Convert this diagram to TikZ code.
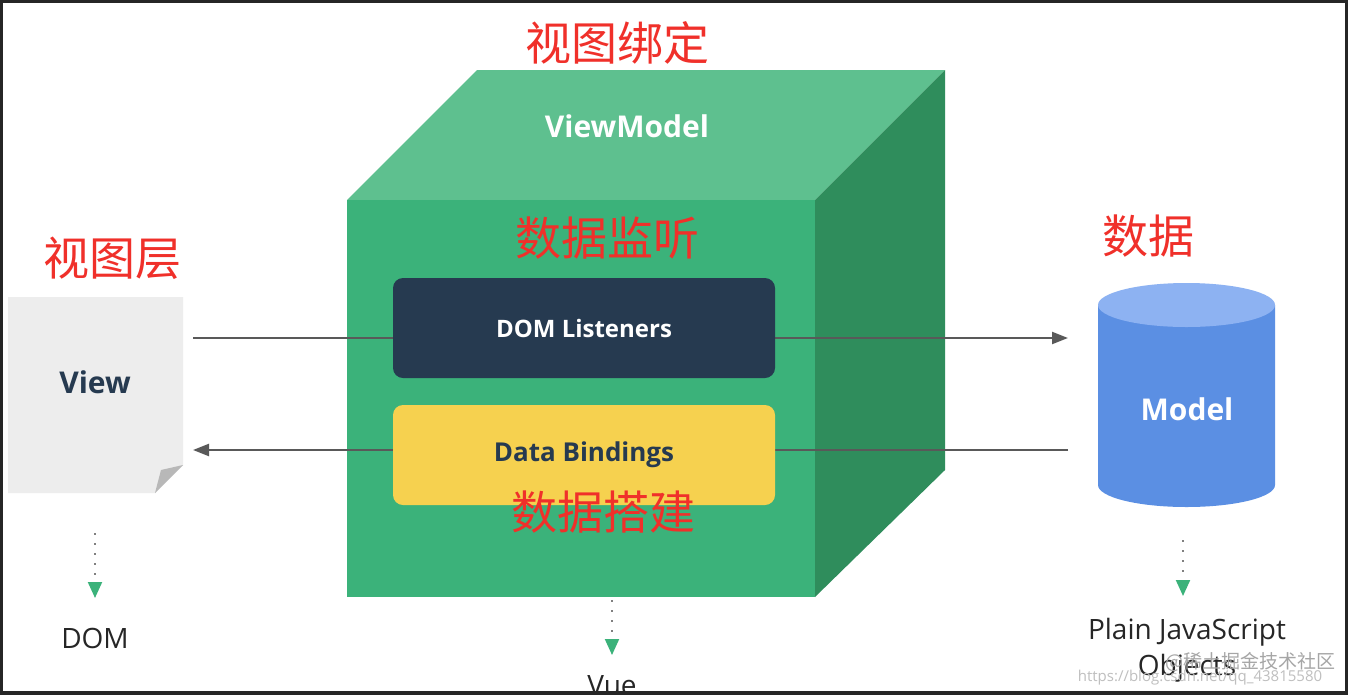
\documentclass[tikz,border=0pt]{standalone}
\usepackage{fontspec}
\setmainfont{Open Sans}
\newfontfamily\cjk{Noto Sans CJK SC}
\usetikzlibrary{arrows.meta}
\definecolor{gfront}{HTML}{3BB27A}
\definecolor{gtop}{HTML}{5EC08F}
\definecolor{gside}{HTML}{2F8D5C}
\definecolor{navy}{HTML}{263A50}
\definecolor{yel}{HTML}{F6D14F}
\definecolor{bl}{HTML}{5B8FE3}
\definecolor{bltop}{HTML}{8DB2F2}
\definecolor{red1}{HTML}{F0302A}
\tikzset{
  cn/.style={font=\cjk\fontsize{46}{46}\selectfont, text=red1},
  plain/.style={font=\fontsize{28}{30}\selectfont, text=black!85},
  flow/.style={draw=black!65, line width=2.2pt, -{Triangle[length=16pt,width=12pt]}},
  dots/.style={draw=black!50, line width=2pt, dash pattern=on 2pt off 8pt, -{Triangle[length=16pt,width=14pt,color=gfront]}}
}
\begin{document}
\begin{tikzpicture}[x=1pt,y=-1pt]
\useasboundingbox (0,0) rectangle (1348,694);
\fill[white] (0,0) rectangle (1348,694);
\draw[black!85, line width=6pt] (0,0) rectangle (1348,694);
% cube
\fill[gtop] (347,200) -- (477,70) -- (945,70) -- (815,200) -- cycle;
\fill[gside] (815,200) -- (945,70) -- (945,470) -- (815,597) -- cycle;
\fill[gfront] (347,200) rectangle (815,597);
\node[text=white, font=\bfseries\fontsize{30}{30}\selectfont] (vm) at (627,126) {ViewModel};
% view page
\fill[black!7] (8,297) -- (183,297) -- (183,465) -- (155,493) -- (8,493) -- cycle;
\fill[black!28] (183,465) -- (155,493) -- (161,470) -- cycle;
\node[text=navy, font=\bfseries\fontsize{30}{30}\selectfont] (view) at (95,382) {View};
\coordinate (vR1) at (193,338);
\coordinate (vR2) at (193,450);
% model cylinder
\fill[bl] (1098,305) -- (1098,485) arc[start angle=180,end angle=360,x radius=88.5pt,y radius=22pt] -- (1275,305) -- cycle;
\fill[bltop] (1186.5,305) ellipse[x radius=88.5pt,y radius=22pt];
\node[text=white, font=\bfseries\fontsize{30}{30}\selectfont] (model) at (1187,409) {Model};
\coordinate (mL1) at (1068,338);
\coordinate (mL2) at (1068,450);
% arrows (behind boxes)
\draw[flow] (vR1) -- (mL1);
\draw[flow] (mL2) -- (vR2);
\node[fill=navy, rounded corners=10pt, minimum width=382pt, minimum height=100pt, text=white, font=\bfseries\fontsize{24}{24}\selectfont] (dl) at (584,328) {DOM Listeners};
\node[fill=yel, rounded corners=10pt, minimum width=382pt, minimum height=100pt, text=navy, font=\bfseries\fontsize{26}{26}\selectfont] (db) at (584,455) {Data Bindings};
% dotted arrows
\node[plain] (dom) at (95,638) {DOM};
\node[plain, anchor=north] (vue) at (612,672) {Vue};
\node[plain, align=center, font=\fontsize{28}{36}\selectfont] (pjo) at (1187,650) {Plain JavaScript\\Objects};
\coordinate (d1) at (95,533); \coordinate (d1e) at (95,598);
\coordinate (d2) at (612,600); \coordinate (d2e) at (612,655);
\coordinate (d3) at (1183,540); \coordinate (d3e) at (1183,596);
\draw[dots] (d1) -- (d1e);
\draw[dots] (d2) -- (d2e);
\draw[dots] (d3) -- (d3e);
% red labels
\node[cn] (c1) at (617,43) {视图绑定};
\node[cn] (c2) at (607,238) {数据监听};
\node[cn] (c3) at (112,258) {视图层};
\node[cn] (c4) at (1148,236) {数据};
\node[cn] (c5) at (603,512) {数据搭建};
% watermark
\node[font=\cjk\fontsize{19}{19}\selectfont, text=black!35] (wm) at (1250,662) {@稀土掘金技术社区};
\node[font=\fontsize{15}{15}\selectfont, text=black!25] (wm2) at (1200,678) {https://blog.csdn.net/qq\_43815580};
\end{tikzpicture}
\end{document}
